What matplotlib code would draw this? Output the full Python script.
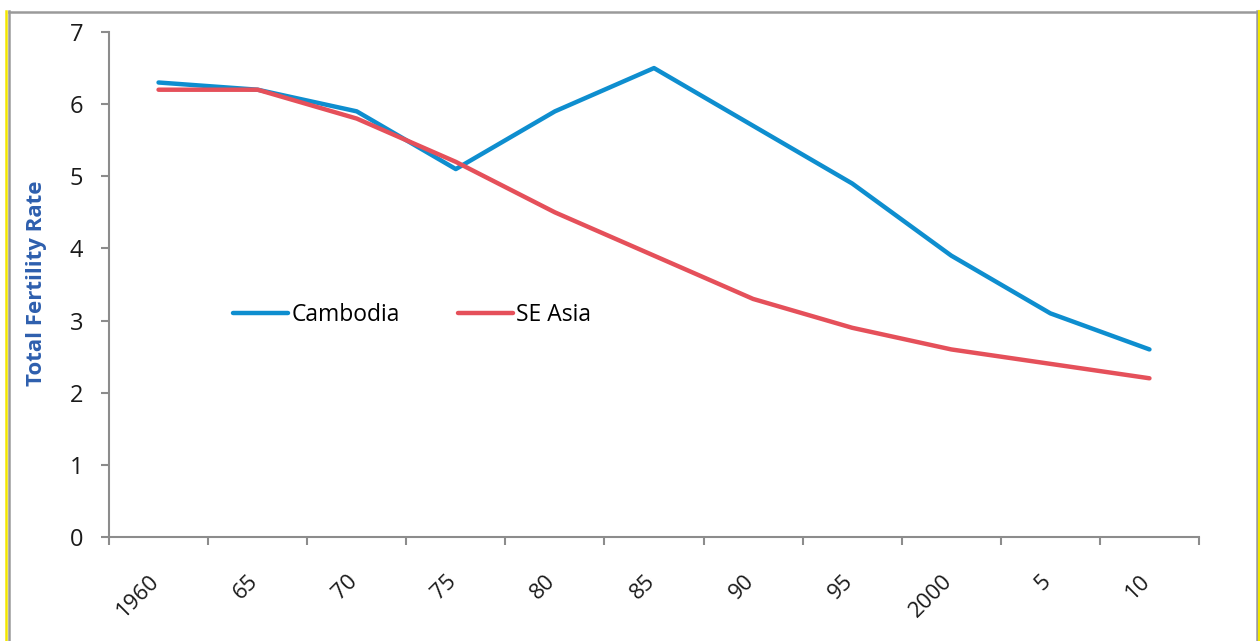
import matplotlib
matplotlib.use("Agg")
import matplotlib.pyplot as plt
from matplotlib.lines import Line2D
from matplotlib.transforms import offset_copy

years = ["1960", "65", "70", "75", "80", "85", "90", "95", "2000", "5", "10"]
cambodia = [6.3, 6.2, 5.9, 5.1, 5.9, 6.5, 5.7, 4.9, 3.9, 3.1, 2.6]
se_asia = [6.2, 6.2, 5.8, 5.2, 4.5, 3.9, 3.3, 2.9, 2.6, 2.4, 2.2]

plt.rcParams['font.family'] = ['Open Sans', 'DejaVu Sans']

fig = plt.figure(figsize=(12.6, 6.41), dpi=100)
ax = fig.add_axes([109/1260, 1-537/641, (1199-109)/1260, (537-32)/641])

blue = "#0E8ECF"
red = "#E5505A"
x = list(range(len(years)))
ax.plot(x, cambodia, color=blue, lw=3.2, solid_capstyle='round', label="Cambodia")
ax.plot(x, se_asia, color=red, lw=3.2, solid_capstyle='round', label="SE Asia")

ax.set_xlim(-0.5, len(years) - 0.5)
ax.set_ylim(0, 7)
ax.set_yticks(range(0, 8))
ax.set_xticks(x)
ax.set_xticklabels(years, rotation=45, fontsize=16, color="#1a1a1a")
ax.set_xticks([i - 0.5 for i in range(len(years) + 1)], minor=True)
ax.tick_params(axis='x', which='major', length=0, pad=24)
ax.tick_params(axis='x', which='minor', length=6, width=1.5, color="#8c8c8c", direction='out')
ax.tick_params(axis='y', length=5.5, width=1.5, color="#8c8c8c", direction='out', labelsize=17,
               labelcolor="#1a1a1a", pad=13)
for lbl in ax.get_xticklabels():
    lbl.set_ha('right')
    lbl.set_va('top')
    lbl.set_transform(offset_copy(lbl.get_transform(), fig=fig, x=5, y=0, units='dots'))

for s in ['top', 'right']:
    ax.spines[s].set_visible(False)
for s in ['left', 'bottom']:
    ax.spines[s].set_color("#8c8c8c")
    ax.spines[s].set_linewidth(1.5)

ax.set_ylabel("Total Fertility Rate", fontsize=16, fontweight='bold', color="#2E5FAE")
ax.yaxis.set_label_coords((47 - 109) / 1090, 1 - (283.5 - 32) / 505)

leg = ax.legend(loc='center left', bbox_to_anchor=((233-109)/1090, 1-(315-32)/505), ncol=2,
                frameon=False, fontsize=16.5, handlelength=2.4, handletextpad=0.17,
                columnspacing=2.5, borderpad=0, borderaxespad=0)

# frame decoration
fig.add_artist(Line2D([8.5/1260, 8.5/1260], [0, 1-11/641], color="#9a9a9a", lw=1.8, transform=fig.transFigure))
fig.add_artist(Line2D([6/1260, 6/1260], [0, 1-11/641], color="#F2E600", lw=1.8, transform=fig.transFigure))
fig.add_artist(Line2D([8.5/1260, 1256.5/1260], [1-11.8/641, 1-11.8/641], color="#9a9a9a", lw=1.8, transform=fig.transFigure))
fig.add_artist(Line2D([1256.5/1260, 1256.5/1260], [0, 1-11/641], color="#9a9a9a", lw=1.8, transform=fig.transFigure))
fig.add_artist(Line2D([1259/1260, 1259/1260], [0, 1-11/641], color="#F2E600", lw=1.5, transform=fig.transFigure))

fig.savefig("out.png", dpi=100)
